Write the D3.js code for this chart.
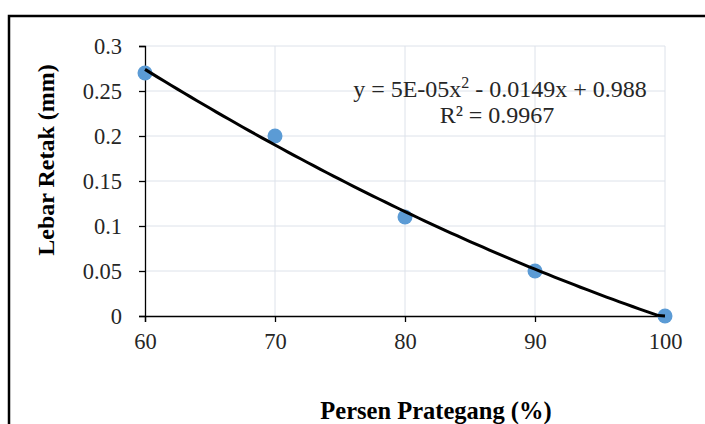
<!DOCTYPE html>
<html><head><meta charset="utf-8">
<script src="https://cdn.jsdelivr.net/npm/d3@7"></script>
<style>body{margin:0;background:#fff}svg{display:block}</style>
</head><body>
<script>
const xValues = [60, 70, 80, 90, 100];
const yValues = [0.27, 0.20, 0.11, 0.05, 0.0];
const xTicks = [60, 70, 80, 90, 100];
const yTicks = [0, 0.05, 0.1, 0.15, 0.2, 0.25, 0.3];
const trendCoef = [5e-5, -0.0149, 0.988];
const eqLabel = "y = 5E-05x";
const eqRest = " - 0.0149x + 0.988";
const r2Label = "R² = 0.9967";
const xTitle = "Persen Prategang (%)";
const yTitle = "Lebar Retak (mm)";

const W = 705, H = 424;
const svg = d3.select("body").append("svg").attr("width", W).attr("height", H);
const font = "'Liberation Serif','Times New Roman',serif";

svg.append("rect").attr("x", 9).attr("y", 16).attr("width", 800).attr("height", 500)
  .attr("fill", "none").attr("stroke", "#000").attr("stroke-width", 2.5);

const x = d3.scaleLinear().domain([60, 100]).range([145, 665]);
const y = d3.scaleLinear().domain([0, 0.3]).range([316, 46]);

// gridlines
svg.append("g").selectAll("line").data(yTicks.filter(d => d > 0)).join("line")
  .attr("x1", x(60)).attr("x2", x(100)).attr("y1", d => y(d)).attr("y2", d => y(d))
  .attr("stroke", "#dde2ea").attr("stroke-width", 1);
svg.append("g").selectAll("line").data(xTicks.filter(d => d > 60)).join("line")
  .attr("x1", d => x(d)).attr("x2", d => x(d)).attr("y1", y(0)).attr("y2", y(0.3))
  .attr("stroke", "#dde2ea").attr("stroke-width", 1);

const xAxis = svg.append("g").attr("transform", `translate(0,${y(0)})`)
  .call(d3.axisBottom(x).tickValues(xTicks).tickSize(6).tickPadding(11).tickFormat(d3.format("d")));
const yAxis = svg.append("g").attr("transform", `translate(${x(60)},0)`)
  .call(d3.axisLeft(y).tickValues(yTicks).tickSize(6).tickPadding(17).tickFormat(d => d3.format("")(+d.toFixed(2))));
[xAxis, yAxis].forEach(g => {
  g.select(".domain").attr("stroke", "#000").attr("stroke-width", 1.3);
  g.selectAll(".tick line").attr("stroke", "#000").attr("stroke-width", 1.3);
  g.selectAll("text").attr("font-family", font).attr("font-size", 22.5).attr("fill", "#262626");
});

// points
svg.append("g").selectAll("circle").data(xValues.map((v, i) => [v, yValues[i]])).join("circle")
  .attr("cx", d => x(d[0])).attr("cy", d => y(d[1])).attr("r", 7.5).attr("fill", "#5b9bd5");

// trendline
const trend = d3.range(60, 100.01, 0.5).map(v => [v, trendCoef[0]*v*v + trendCoef[1]*v + trendCoef[2]]);
svg.append("path").datum(trend)
  .attr("d", d3.line().x(d => x(d[0])).y(d => y(Math.max(0, d[1]))))
  .attr("fill", "none").attr("stroke", "#000").attr("stroke-width", 3);

// equation
const eq = svg.append("text").attr("x", 500).attr("y", 97).attr("text-anchor", "middle")
  .attr("font-family", font).attr("font-size", 24).attr("fill", "#262626");
eq.append("tspan").text(eqLabel);
eq.append("tspan").attr("dy", -9).attr("font-size", 16).text("2");
eq.append("tspan").attr("dy", 9).text(eqRest);
svg.append("text").attr("x", 497).attr("y", 123).attr("text-anchor", "middle")
  .attr("font-family", font).attr("font-size", 24).attr("fill", "#262626").text(r2Label);

svg.append("text").attr("x", 436).attr("y", 419).attr("text-anchor", "middle")
  .attr("font-family", font).attr("font-size", 24.5).attr("font-weight", "bold").text(xTitle);
svg.append("text").attr("transform", "translate(54,160) rotate(-90)").attr("text-anchor", "middle")
  .attr("font-family", font).attr("font-size", 24).attr("font-weight", "bold").text(yTitle);
</script>
</body></html>
